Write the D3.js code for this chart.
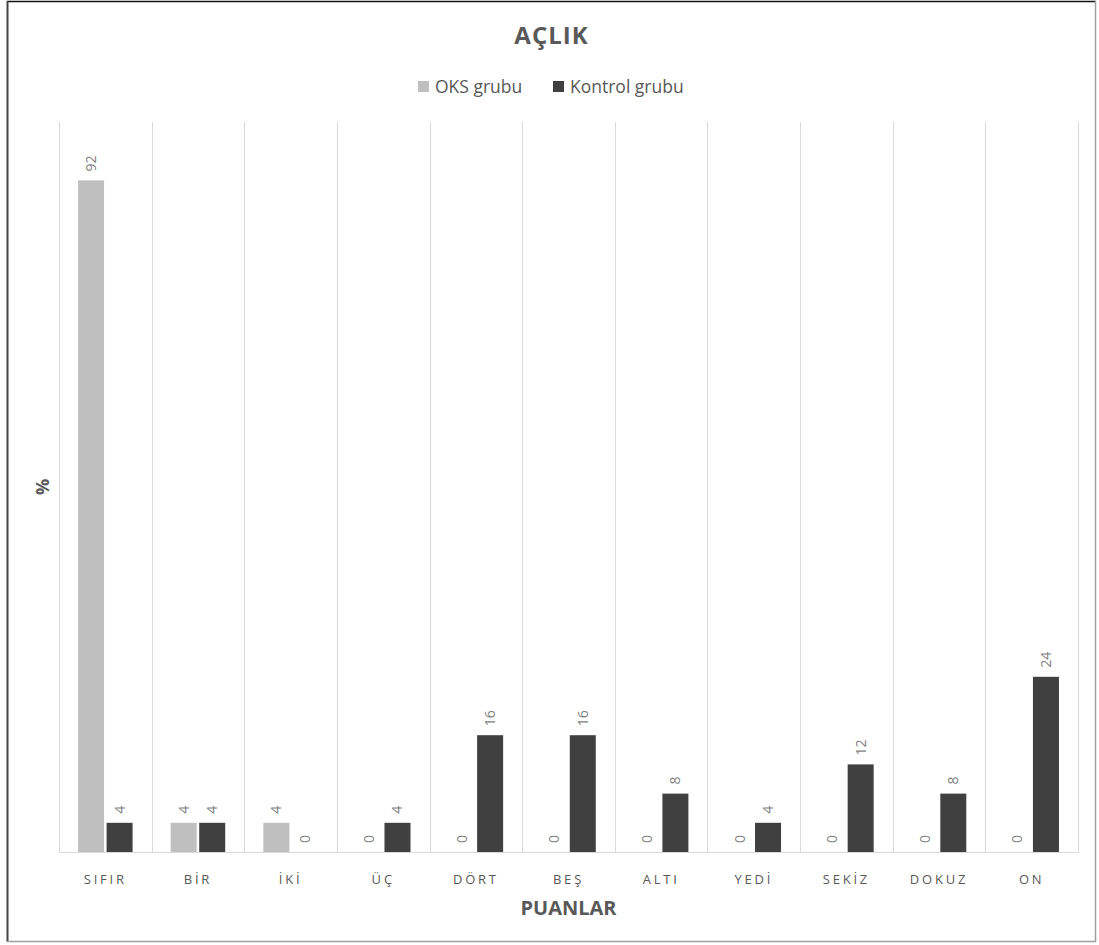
<!DOCTYPE html>
<html>
<head>
<meta charset="utf-8">
<script src="https://cdn.jsdelivr.net/npm/d3@7"></script>
<style>
  html, body { margin: 0; padding: 0; background: #fff; }
  svg { display: block; font-family: "Open Sans", "Noto Sans", sans-serif; }
</style>
</head>
<body>
<svg id="chart" width="1099" height="945"></svg>
<script>
// Score categories (0–10) and percentages for each group
const categories = ["SIFIR", "BİR", "İKİ", "ÜÇ", "DÖRT", "BEŞ", "ALTI", "YEDİ", "SEKİZ", "DOKUZ", "ON"];
const seriesNames = ["OKS grubu", "Kontrol grubu"];
const oksValues = [92, 4, 4, 0, 0, 0, 0, 0, 0, 0, 0];
const kontrolValues = [4, 4, 0, 4, 16, 16, 8, 4, 12, 8, 24];
const seriesColors = ["#bfbfbf", "#404040"];

const svg = d3.select("#chart");
const W = 1099, H = 945;
const plot = { left: 59, right: 1078, top: 122, bottom: 852 };

// Outer frame
svg.append("rect").attr("x", 0).attr("y", 0).attr("width", W).attr("height", H).attr("fill", "#fff");
svg.append("line").attr("x1", 7).attr("x2", 1096).attr("y1", 1.5).attr("y2", 1.5).attr("stroke", "#111").attr("stroke-width", 1.5);
svg.append("line").attr("x1", 7.5).attr("x2", 7.5).attr("y1", 1).attr("y2", 942).attr("stroke", "#444").attr("stroke-width", 2);
svg.append("line").attr("x1", 1095.5).attr("x2", 1095.5).attr("y1", 1).attr("y2", 942).attr("stroke", "#a0a0a0").attr("stroke-width", 1.5);
svg.append("line").attr("x1", 7).attr("x2", 1096).attr("y1", 941.5).attr("y2", 941.5).attr("stroke", "#a0a0a0").attr("stroke-width", 1.5);

const data = categories.map((c, i) => ({ cat: c, values: [oksValues[i], kontrolValues[i]] }));

const x0 = d3.scaleBand().domain(categories).range([plot.left, plot.right]).paddingInner(0).paddingOuter(0);
const x1 = d3.scaleBand().domain(seriesNames).range([0, x0.bandwidth()]).paddingInner(0.088).paddingOuter(0.668);
const y = d3.scaleLinear().domain([0, 100]).range([plot.bottom, plot.top]);

// Vertical category separators
const bounds = categories.map(c => x0(c)).concat([plot.right]);
svg.append("g").selectAll("line").data(bounds).join("line")
  .attr("x1", d => Math.round(d) + 0.5).attr("x2", d => Math.round(d) + 0.5)
  .attr("y1", plot.top).attr("y2", plot.bottom)
  .attr("stroke", "#d9d9d9").attr("stroke-width", 1);

// Bars
const groups = svg.append("g").selectAll("g").data(data).join("g")
  .attr("transform", d => `translate(${x0(d.cat)},0)`);

groups.selectAll("rect").data(d => d.values.map((v, k) => ({ v, k })))
  .join("rect")
  .attr("x", d => x1(seriesNames[d.k]))
  .attr("y", d => y(d.v))
  .attr("width", x1.bandwidth())
  .attr("height", d => y(0) - y(d.v))
  .attr("fill", d => seriesColors[d.k]);

// Value labels, rotated
groups.selectAll("text").data(d => d.values.map((v, k) => ({ v, k })))
  .join("text")
  .attr("transform", d => `translate(${x1(seriesNames[d.k]) + x1.bandwidth() / 2 + 5},${y(d.v) - 9}) rotate(-90)`)
  .attr("text-anchor", "start")
  .attr("font-size", 14)
  .attr("fill", "#7f7f7f")
  .text(d => d.v);

// Category axis baseline
svg.append("line").attr("x1", plot.left).attr("x2", plot.right + 1)
  .attr("y1", plot.bottom + 0.5).attr("y2", plot.bottom + 0.5)
  .attr("stroke", "#d9d9d9").attr("stroke-width", 1);

// Category labels
const xAxis = d3.axisBottom(x0).tickSize(0).tickPadding(0);
const ax = svg.append("g").attr("transform", `translate(0,${plot.bottom})`).call(xAxis);
ax.select(".domain").remove();
ax.selectAll("text")
  .attr("y", 32)
  .attr("dy", 0)
  .attr("font-family", "'Open Sans', sans-serif")
  .attr("font-size", 13)
  .attr("letter-spacing", "2.8px")
  .attr("fill", "#595959");

// Titles
svg.append("text").attr("x", 551.5).attr("y", 44)
  .attr("text-anchor", "middle").attr("font-size", 24).attr("font-weight", "bold")
  .attr("letter-spacing", "1px").attr("fill", "#595959").text("AÇLIK");

svg.append("text").attr("x", (plot.left + plot.right) / 2).attr("y", 915)
  .attr("text-anchor", "middle").attr("font-size", 20).attr("font-weight", "bold")
  .attr("fill", "#595959").text("PUANLAR");

svg.append("text").attr("transform", `translate(49,${(plot.top + plot.bottom) / 2}) rotate(-90)`)
  .attr("text-anchor", "middle").attr("font-size", 18).attr("font-weight", "bold")
  .attr("fill", "#595959").text("%");

// Legend
const legendItems = [
  { name: seriesNames[0], color: seriesColors[0], x: 418 },
  { name: seriesNames[1], color: seriesColors[1], x: 553 }
];
const lg = svg.append("g").selectAll("g").data(legendItems).join("g")
  .attr("transform", d => `translate(${d.x},81)`);
lg.append("rect").attr("width", 11).attr("height", 11).attr("fill", d => d.color);
lg.append("text").attr("x", 17).attr("y", 11.5)
  .attr("font-size", 17.5).attr("fill", "#595959").text(d => d.name);
</script>
</body>
</html>
